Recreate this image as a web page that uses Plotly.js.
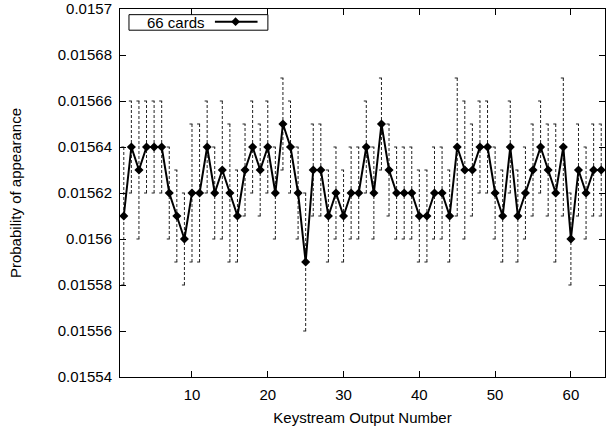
<!DOCTYPE html>
<html>
<head>
<meta charset="utf-8">
<script src="https://cdn.plot.ly/plotly-3.0.1.min.js"></script>
<style>html,body{margin:0;padding:0;background:#fff;}#chart{width:613px;height:431px;}</style>
</head>
<body>
<div id="chart"></div>
<script>
// Keystream output number 1..64
var outputNumbers = [];
for (var n = 1; n <= 64; n++) outputNumbers.push(n);

// Probability of appearance (66 cards)
var probability = [
  0.01561, 0.01564, 0.01563, 0.01564, 0.01564, 0.01564, 0.01562, 0.01561, 0.01560, 0.01562,
  0.01562, 0.01564, 0.01562, 0.01563, 0.01562, 0.01561, 0.01563, 0.01564, 0.01563, 0.01564,
  0.01562, 0.01565, 0.01564, 0.01562, 0.01559, 0.01563, 0.01563, 0.01561, 0.01562, 0.01561,
  0.01562, 0.01562, 0.01564, 0.01562, 0.01565, 0.01563, 0.01562, 0.01562, 0.01562, 0.01561,
  0.01561, 0.01562, 0.01562, 0.01561, 0.01564, 0.01563, 0.01563, 0.01564, 0.01564, 0.01562,
  0.01561, 0.01564, 0.01561, 0.01562, 0.01563, 0.01564, 0.01563, 0.01562, 0.01564, 0.01560,
  0.01563, 0.01562, 0.01563, 0.01563
];

// Symmetric error (half-height of error bar)
var errorHalf = [
  0.00003, 0.00002, 0.00003, 0.00002, 0.00002, 0.00002, 0.00002, 0.00002, 0.00002, 0.00003,
  0.00003, 0.00002, 0.00002, 0.00003, 0.00003, 0.00002, 0.00002, 0.00002, 0.00002, 0.00002,
  0.00002, 0.00002, 0.00002, 0.00002, 0.00003, 0.00002, 0.00002, 0.00002, 0.00002, 0.00002,
  0.00002, 0.00002, 0.00002, 0.00002, 0.00002, 0.00002, 0.00002, 0.00002, 0.00002, 0.00002,
  0.00002, 0.00002, 0.00002, 0.00002, 0.00003, 0.00003, 0.00002, 0.00002, 0.00002, 0.00002,
  0.00002, 0.00002, 0.00002, 0.00002, 0.00002, 0.00002, 0.00002, 0.00003, 0.00003, 0.00002,
  0.00002, 0.00002, 0.00002, 0.00002
];

var xTickVals = [10, 20, 30, 40, 50, 60];
var yTickVals = [0.01554, 0.01556, 0.01558, 0.01560, 0.01562, 0.01564, 0.01566, 0.01568, 0.01570];
var yTickText = ['0.01554', '0.01556', '0.01558', '0.0156', '0.01562', '0.01564', '0.01566', '0.01568', '0.0157'];

var seriesName = '66 cards';

// Build dashed error bars (vertical + caps) as line segments
var capHalf = 0.33;
var ex = [], ey = [];
for (var i = 0; i < outputNumbers.length; i++) {
  var xv = outputNumbers[i], lo = probability[i] - errorHalf[i], hi = probability[i] + errorHalf[i];
  ex.push(xv, xv, null); ey.push(lo, hi, null);
  ex.push(xv - capHalf, xv + capHalf, null); ey.push(hi, hi, null);
  ex.push(xv - capHalf, xv + capHalf, null); ey.push(lo, lo, null);
}

var errTrace = {
  x: ex, y: ey, mode: 'lines', type: 'scatter',
  line: {color: '#222', width: 1, dash: '3px,2px'},
  hoverinfo: 'skip', showlegend: false, connectgaps: false
};
var mainTrace = {
  x: outputNumbers, y: probability, mode: 'lines+markers', type: 'scatter',
  name: seriesName,
  line: {color: '#000', width: 2},
  marker: {symbol: 'diamond', size: 7, color: '#000'},
  showlegend: false
};

var font = {family: '"Liberation Sans", Arial, Helvetica, sans-serif', size: 15, color: '#000'};

var layout = {
  width: 613, height: 431,
  margin: {l: 120, r: 8, t: 9, b: 54, pad: 0},
  paper_bgcolor: '#fff', plot_bgcolor: '#fff',
  font: font,
  showlegend: false,
  xaxis: {
    range: [0.5, 64.5], tickvals: xTickVals, ticks: 'inside', ticklen: 6, tickcolor: '#000',
    showline: true, linecolor: '#000', linewidth: 1, mirror: 'ticks', showgrid: false, zeroline: false,
    tickfont: font, ticklabelstandoff: 4,
    title: {text: 'Keystream Output Number', font: font, standoff: 10}
  },
  yaxis: {
    range: [0.0155399999, 0.0157000001], tickvals: yTickVals, ticktext: yTickText, ticks: 'inside', ticklen: 6, tickcolor: '#000',
    showline: true, linecolor: '#000', linewidth: 1, mirror: 'ticks', showgrid: false, zeroline: false,
    tickfont: font, ticklabelstandoff: 4, ticklabeloverflow: 'allow',
    title: {text: 'Probability of appearance', font: font, standoff: 32}
  },
  shapes: [
    {type: 'rect', xref: 'paper', yref: 'paper', x0: 0.0185, x1: 0.3049, y0: 0.9424, y1: 0.9846,
     line: {color: '#000', width: 1}, fillcolor: '#fff', layer: 'above'},
    {type: 'line', xref: 'paper', yref: 'paper', x0: 0.1957, x1: 0.2836, y0: 0.9655, y1: 0.9655,
     line: {color: '#000', width: 2}, layer: 'above'},
    {type: 'path', xref: 'paper', yref: 'paper', xsizemode: 'pixel', ysizemode: 'pixel',
     xanchor: 0.2383, yanchor: 0.9655, path: 'M0,4.4 L4.4,0 L0,-4.4 L-4.4,0 Z',
     fillcolor: '#000', line: {color: '#000', width: 0}, layer: 'above'}
  ],
  annotations: [
    {xref: 'paper', yref: 'paper', x: 0.0515, y: 0.9635, xanchor: 'left', yanchor: 'middle',
     text: seriesName, showarrow: false, font: font}
  ]
};

Plotly.newPlot('chart', [errTrace, mainTrace], layout, {displayModeBar: false, staticPlot: true});
</script>
</body>
</html>
